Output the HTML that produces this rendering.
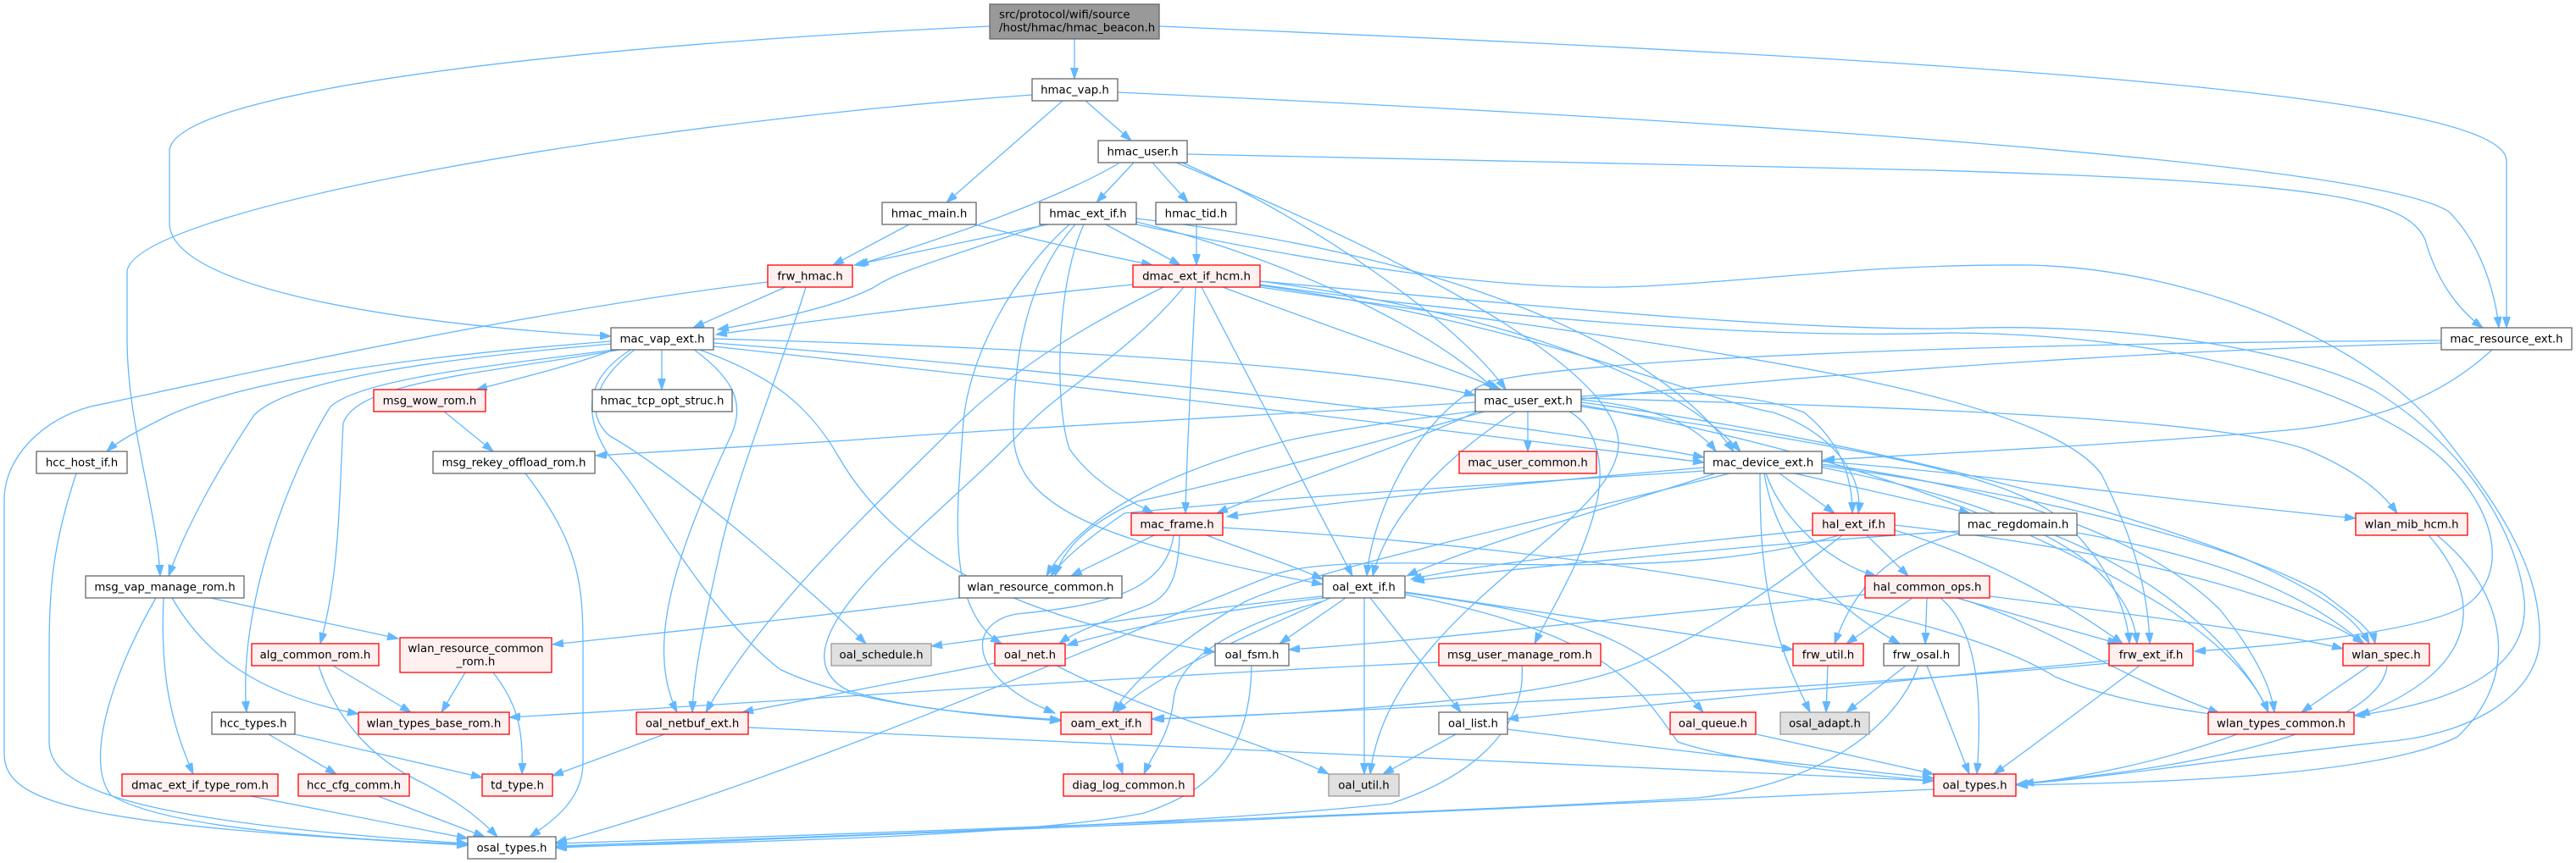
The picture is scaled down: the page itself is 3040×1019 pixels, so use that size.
<!DOCTYPE html>
<html><head><meta charset="utf-8"><style>
html,body{margin:0;padding:0;background:#fff;}
svg{display:block;}
text{font-family:"DejaVu Sans","Liberation Sans",sans-serif;font-size:13.33px;fill:#000;text-anchor:middle;}
.w{fill:#fff;stroke:#666;stroke-width:1.3;}
.r{fill:#fff0f0;stroke:#ff0000;stroke-width:1.3;}
.g{fill:#e0e0e0;stroke:#999;stroke-width:1.3;}
.root{fill:#999;stroke:#666;stroke-width:1.3;}
</style></head><body>
<svg width="3040" height="1019" viewBox="0 0 3040 1019" xmlns="http://www.w3.org/2000/svg">
<defs><marker id="a" markerWidth="14" markerHeight="10" refX="13" refY="4.5" orient="auto" markerUnits="userSpaceOnUse"><path d="M0,0 L13,4.5 L0,9 z" fill="#63b8ff" stroke="#63b8ff" stroke-width="1"/></marker></defs>
<rect width="3040" height="1019" fill="#fff"/>
<g fill="none" stroke="#63b8ff" stroke-width="1.3" marker-end="url(#a)">
<path d="M1268,46 L1268,93"/>
<path d="M1168,31 C700,52 210,105 200,177 L200,265 C205,345 500,385 721,397"/>
<path d="M1368,31 C2300,70 2958,110 2958,190 L2958,387"/>
<path d="M1281,119 L1335,166"/>
<path d="M1254,119 L1117,239"/>
<path d="M1218,112 C700,150 160,250 150,320 L150,400 C150,500 185,600 189,680"/>
<path d="M1319,109 C2000,140 2800,190 2890,250 C2930,290 2945,350 2949,387"/>
<path d="M1338,192 L1294,239"/>
<path d="M1360,192 L1402,239"/>
<path d="M1320,193 C1240,240 1100,285 1012,313"/>
<path d="M1401,182 L2280,201 C2750,215 2840,235 2862,283 C2875,330 2900,365 2930,387"/>
<path d="M1388,192 C1600,280 1900,420 1910,520 C1915,620 1640,720 1617,914"/>
<path d="M1395,192 C1550,260 1720,380 1777,460"/>
<path d="M1073,265 L983,313"/>
<path d="M1150,265 C1250,290 1320,305 1360,313"/>
<path d="M1237,265 L1008,313"/>
<path d="M1232,265 C1100,310 1060,320 1030,340 C980,365 900,380 847,389"/>
<path d="M1305,265 L1393,313"/>
<path d="M1262,265 C1200,320 1140,420 1136,510 C1130,600 1115,720 1182,760"/>
<path d="M1269,265 C1220,320 1196,400 1196,510 C1196,600 1300,640 1561,690"/>
<path d="M1279,265 C1245,340 1245,480 1262,530 C1290,570 1330,590 1361,606"/>
<path d="M1341,262 C1500,300 1680,380 1764,460"/>
<path d="M1341,258 C1700,300 1950,400 2046,533"/>
<path d="M1341,265 C1600,320 1800,345 1938,338 C2100,330 2200,312 2394,313 C2600,318 2800,410 2880,510 C2960,610 3000,680 2997,759 C2990,830 2900,870 2813,876 C2600,900 2450,922 2380,926"/>
<path d="M1487,332 C1800,360 2100,390 2300,388 C2500,380 2700,410 2800,460 C2900,520 2970,620 2979,709 C2985,790 2900,830 2778,845"/>
<path d="M1412,265 L1412,313"/>
<path d="M1337,336 C1100,360 950,380 845,395"/>
<path d="M1411,339 C1405,450 1400,550 1399,606"/>
<path d="M1418,339 L1596,680"/>
<path d="M1443,339 C1550,380 1700,430 1771,460"/>
<path d="M1373,339 C1290,380 1200,430 1121,509 C1030,600 900,720 833,841"/>
<path d="M1397,339 C1330,420 1250,460 1206,509 C1100,620 900,760 1000,815 C1080,840 1180,845 1252,850"/>
<path d="M1487,332 C1700,360 1950,420 2054,533"/>
<path d="M1487,337 C1800,380 2000,470 2093,487 C2160,510 2200,560 2193,606"/>
<path d="M1487,336 C1800,380 2100,400 2300,393 C2600,395 2800,470 2880,540 C2950,605 2960,680 2910,715 C2860,745 2700,762 2590,769"/>
<path d="M1487,339 C1900,400 2400,450 2480,560 C2520,640 2535,700 2537,760"/>
<path d="M927,339 L818,387"/>
<path d="M951,339 C920,440 870,560 850,650 C830,740 818,800 817,841"/>
<path d="M906,333 C600,370 250,450 107,480 C50,495 5,540 5,590 L5,890 C5,950 100,975 552,998"/>
<path d="M781,412 L781,460"/>
<path d="M727,412 C680,430 620,445 562,460"/>
<path d="M721,403 C500,420 300,445 200,490 C170,505 140,520 126,533"/>
<path d="M722,406 C500,425 340,450 300,490 C260,550 220,620 199,680"/>
<path d="M732,412 C600,430 430,445 390,480 C340,560 280,720 291,841"/>
<path d="M737,412 C580,440 420,450 405,500 C400,600 400,680 378,760"/>
<path d="M746,412 C700,440 680,480 720,540 C760,580 830,720 920,790 C1000,830 1150,845 1252,851"/>
<path d="M750,412 C700,450 690,490 720,515 C800,560 960,700 1022,760"/>
<path d="M818,412 C870,450 880,480 860,520 C800,650 760,760 799,841"/>
<path d="M823,412 C900,440 950,470 990,540 C1060,660 1200,730 1434,770"/>
<path d="M842,400 C1200,410 1600,430 1741,467"/>
<path d="M842,405 C1300,440 1800,500 2011,540"/>
<path d="M842,409 C1400,470 1800,520 2011,546"/>
<path d="M2942,412 C2880,470 2800,500 2687,509 C2500,525 2300,535 2152,543"/>
<path d="M2881,402 C2400,405 1900,420 1760,450 C1680,480 1620,600 1613,680"/>
<path d="M2881,405 C2300,420 1700,480 1520,520 C1400,550 1280,600 1235,680"/>
<path d="M523,485 L582,533"/>
<path d="M620,559 C690,650 688,700 688,780 L688,900 C688,940 660,965 625,988"/>
<path d="M1803,485 L1803,533"/>
<path d="M1741,475 C1500,490 1200,505 1000,520 C850,530 750,535 703,538"/>
<path d="M1790,485 C1720,530 1640,600 1620,680"/>
<path d="M1745,485 C1650,530 1520,570 1436,606"/>
<path d="M1755,485 C1600,530 1400,580 1342,592 C1280,620 1255,650 1245,680"/>
<path d="M1866,468 C1950,462 2060,460 2129,487 C2170,520 2186,560 2186,606"/>
<path d="M1866,472 C1950,480 2000,500 2025,533"/>
<path d="M1866,475 C2200,520 2500,600 2650,660 C2740,700 2780,730 2796,760"/>
<path d="M1866,478 C2200,540 2400,620 2560,720 C2620,760 2660,800 2677,841"/>
<path d="M1866,480 C2200,530 2380,560 2440,620 C2490,670 2510,720 2513,760"/>
<path d="M1850,485 C1880,500 1895,540 1885,590 C1870,660 1830,720 1811,760"/>
<path d="M1866,470 C2200,480 2600,490 2720,530 C2780,555 2810,580 2829,606"/>
<path d="M2077,559 C2077,640 2080,720 2121,809 L2136,841"/>
<path d="M2082,559 C2095,640 2150,709 2242,760"/>
<path d="M2084,559 C2104,617 2164,667 2214,680"/>
<path d="M2100,559 L2165,606"/>
<path d="M2118,559 L2325,606"/>
<path d="M2011,552 C1800,570 1600,590 1448,610"/>
<path d="M2011,556 C1800,570 1520,586 1327,606 C1283,636 1255,660 1240,680"/>
<path d="M2024,559 C1900,600 1750,640 1660,680"/>
<path d="M2041,559 C1800,620 1560,670 1470,710 C1400,750 1340,800 1313,841"/>
<path d="M2150,545 C2300,555 2571,592 2780,612"/>
<path d="M2150,548 C2400,580 2550,650 2620,720 C2660,770 2680,810 2684,841"/>
<path d="M2150,550 C2450,590 2650,650 2740,700 C2780,730 2800,745 2803,760"/>
<path d="M2150,552 C2350,590 2450,640 2490,690 C2515,720 2520,740 2522,760"/>
<path d="M2139,626 C1900,650 1750,665 1665,684"/>
<path d="M2174,632 C2100,690 2000,760 1908,792 C1800,830 1500,845 1361,849"/>
<path d="M2203,632 L2252,680"/>
<path d="M2236,626 C2350,660 2450,720 2505,760"/>
<path d="M2236,620 C2500,650 2700,700 2790,760"/>
<path d="M2170,632 C1950,700 1600,640 1500,680 C1200,800 900,930 656,995"/>
<path d="M2312,627 C2100,640 1800,670 1668,686"/>
<path d="M2312,630 C2230,650 2190,690 2165,760"/>
<path d="M2425,632 C2571,692 2650,780 2677,841"/>
<path d="M2451,629 C2619,659 2720,700 2789,760"/>
<path d="M2201,702 C1900,730 1700,755 1521,767"/>
<path d="M2257,706 L2179,760"/>
<path d="M2274,706 L2272,760"/>
<path d="M2290,706 C2333,742 2340,820 2333,914"/>
<path d="M2309,706 L2500,760"/>
<path d="M2314,707 C2425,742 2484,792 2619,842"/>
<path d="M2348,704 C2571,732 2700,750 2765,766"/>
<path d="M2866,632 C2934,709 2925,792 2784,845"/>
<path d="M2876,632 C2960,700 2975,800 2900,870 C2800,920 2500,925 2380,927"/>
<path d="M1561,704 C1400,720 1200,750 1099,763"/>
<path d="M1561,706 C1450,720 1330,740 1259,762"/>
<path d="M1588,706 L1510,760"/>
<path d="M1610,706 L1610,914"/>
<path d="M1617,706 L1724,841"/>
<path d="M1658,700 C1859,727 1932,749 2010,841"/>
<path d="M1658,702 C1898,749 1932,809 1980,876 C2050,900 2200,915 2282,922"/>
<path d="M1658,699 L2116,767"/>
<path d="M1570,706 C1450,760 1360,800 1317,841"/>
<path d="M1561,710 C1450,740 1390,780 1385,826 C1380,870 1360,890 1350,914"/>
<path d="M1718,867 L1632,914"/>
<path d="M1779,861 C2000,890 2200,910 2282,919"/>
<path d="M2073,867 L2282,914"/>
<path d="M1174,783 L876,841"/>
<path d="M1247,786 C1350,840 1500,880 1568,914"/>
<path d="M1310,867 L1325,914"/>
<path d="M1477,786 C1475,880 1440,930 1350,960 C1200,990 800,996 656,1000"/>
<path d="M784,867 L652,916"/>
<path d="M883,859 C1500,885 2000,905 2282,922"/>
<path d="M2157,786 L2155,841"/>
<path d="M2249,786 L2179,841"/>
<path d="M2274,786 L2324,914"/>
<path d="M2264,786 C2237,859 2150,926 2004,942 C1700,960 1000,985 656,996"/>
<path d="M2525,786 C2450,842 2400,880 2353,914"/>
<path d="M2489,780 C2300,800 1900,835 1779,849"/>
<path d="M2489,783 C2200,810 1700,835 1359,849"/>
<path d="M2796,786 L2716,841"/>
<path d="M2817,786 C2813,826 2740,892 2387,925"/>
<path d="M1698,782 C1300,800 900,830 601,847"/>
<path d="M1796,786 C1801,842 1762,909 1641,949 C1400,975 900,990 656,999"/>
<path d="M2282,932 C2000,945 1000,990 656,1001"/>
<path d="M2640,867 C2550,900 2450,920 2380,926"/>
<path d="M248,706 L470,754"/>
<path d="M184,706 C130,800 100,900 131,939 C200,980 400,990 552,997"/>
<path d="M193,706 C189,792 200,850 228,914"/>
<path d="M203,706 C240,770 300,820 423,843"/>
<path d="M393,786 L485,841"/>
<path d="M376,786 C400,860 450,900 490,920 C530,940 560,960 587,988"/>
<path d="M549,794 L521,841"/>
<path d="M582,794 C610,830 618,860 616,914"/>
<path d="M317,867 L397,914"/>
<path d="M348,867 L569,918"/>
<path d="M296,940 L552,990"/>
<path d="M446,940 L572,988"/>
<path d="M90,559 C60,650 58,700 58,780 L58,876 C58,930 150,970 552,996"/>
<path d="M1132,706 C950,730 800,745 652,761"/>
<path d="M1362,632 L1264,680"/>
<path d="M1392,632 C1390,692 1376,709 1340,720 C1300,735 1270,745 1250,760"/>
<path d="M1385,632 C1375,700 1300,715 1200,725 C1140,735 1140,800 1245,842"/>
<path d="M1424,632 C1470,650 1520,665 1561,684"/>
<path d="M1443,623 C1900,650 2300,720 2425,799 C2500,830 2580,838 2619,845"/>
</g>
<g>
<rect class="root" x="1168" y="5" width="200" height="41"/>
<text x="1179" y="21.5" style="text-anchor:start">src/protocol/wifi/source</text>
<text x="1179" y="37" style="text-anchor:start">/host/hmac/hmac_beacon.h</text>

<rect class="w" x="1218" y="93" width="101" height="26"/><text x="1268.5" y="110.5">hmac_vap.h</text>
<rect class="w" x="1296" y="166" width="105" height="26"/><text x="1348.5" y="183.5">hmac_user.h</text>
<rect class="w" x="1041" y="239" width="111" height="26"/><text x="1096.5" y="256.5">hmac_main.h</text>
<rect class="w" x="1227" y="239" width="114" height="26"/><text x="1284" y="256.5">hmac_ext_if.h</text>
<rect class="w" x="1364" y="239" width="95" height="26"/><text x="1411.5" y="256.5">hmac_tid.h</text>
<rect class="r" x="906" y="313" width="100" height="26"/><text x="956" y="330.5">frw_hmac.h</text>
<rect class="r" x="1337" y="313" width="150" height="26"/><text x="1412" y="330.5">dmac_ext_if_hcm.h</text>
<rect class="w" x="721" y="387" width="121" height="26"/><text x="781.5" y="404.5">mac_vap_ext.h</text>
<rect class="w" x="2881" y="387" width="154" height="26"/><text x="2958" y="404.5">mac_resource_ext.h</text>
<rect class="r" x="441" y="460" width="132" height="26"/><text x="507" y="477.5">msg_wow_rom.h</text>
<rect class="w" x="699" y="460" width="165" height="26"/><text x="781.5" y="477.5">hmac_tcp_opt_struc.h</text>
<rect class="w" x="1741" y="460" width="125" height="26"/><text x="1803.5" y="477.5">mac_user_ext.h</text>
<rect class="w" x="43" y="533" width="107" height="26"/><text x="96.5" y="550.5">hcc_host_if.h</text>
<rect class="w" x="511" y="533" width="191" height="26"/><text x="606.5" y="550.5">msg_rekey_offload_rom.h</text>
<rect class="r" x="1722" y="533" width="162" height="26"/><text x="1803" y="550.5">mac_user_common.h</text>
<rect class="w" x="2011" y="533" width="139" height="26"/><text x="2080.5" y="550.5">mac_device_ext.h</text>
<rect class="r" x="1335" y="606" width="108" height="26"/><text x="1389" y="623.5">mac_frame.h</text>
<rect class="r" x="2139" y="606" width="97" height="26"/><text x="2187.5" y="623.5">hal_ext_if.h</text>
<rect class="w" x="2312" y="606" width="139" height="26"/><text x="2381.5" y="623.5">mac_regdomain.h</text>
<rect class="r" x="2780" y="606" width="132" height="26"/><text x="2846" y="623.5">wlan_mib_hcm.h</text>
<rect class="w" x="101" y="680" width="187" height="26"/><text x="194.5" y="697.5">msg_vap_manage_rom.h</text>
<rect class="w" x="1132" y="680" width="192" height="26"/><text x="1228" y="697.5">wlan_resource_common.h</text>
<rect class="w" x="1561" y="680" width="97" height="26"/><text x="1609.5" y="697.5">oal_ext_if.h</text>
<rect class="r" x="2201" y="680" width="147" height="26"/><text x="2274.5" y="697.5">hal_common_ops.h</text>
<rect class="r" x="297" y="760" width="150" height="26"/><text x="372" y="777.5">alg_common_rom.h</text>
<rect class="r" x="472" y="753" width="179" height="41"/><text x="561.5" y="770">wlan_resource_common</text><text x="561.5" y="785.5">_rom.h</text>
<rect class="g" x="981" y="760" width="118" height="26"/><text x="1040" y="777.5">oal_schedule.h</text>
<rect class="r" x="1174" y="760" width="83" height="26"/><text x="1215.5" y="777.5">oal_net.h</text>
<rect class="w" x="1434" y="760" width="87" height="26"/><text x="1477.5" y="777.5">oal_fsm.h</text>
<rect class="r" x="1698" y="760" width="191" height="26"/><text x="1793.5" y="777.5">msg_user_manage_rom.h</text>
<rect class="r" x="2116" y="760" width="83" height="26"/><text x="2157.5" y="777.5">frw_util.h</text>
<rect class="w" x="2223" y="760" width="89" height="26"/><text x="2267.5" y="777.5">frw_osal.h</text>
<rect class="r" x="2489" y="760" width="99" height="26"/><text x="2538.5" y="777.5">frw_ext_if.h</text>
<rect class="r" x="2765" y="760" width="102" height="26"/><text x="2816" y="777.5">wlan_spec.h</text>
<rect class="w" x="250" y="841" width="98" height="26"/><text x="299" y="858.5">hcc_types.h</text>
<rect class="r" x="423" y="841" width="178" height="26"/><text x="512" y="858.5">wlan_types_base_rom.h</text>
<rect class="r" x="751" y="841" width="132" height="26"/><text x="817" y="858.5">oal_netbuf_ext.h</text>
<rect class="r" x="1252" y="841" width="107" height="26"/><text x="1305.5" y="858.5">oam_ext_if.h</text>
<rect class="w" x="1698" y="841" width="81" height="26"/><text x="1738.5" y="858.5">oal_list.h</text>
<rect class="r" x="1971" y="841" width="101" height="26"/><text x="2021.5" y="858.5">oal_queue.h</text>
<rect class="g" x="2101" y="841" width="105" height="26"/><text x="2153.5" y="858.5">osal_adapt.h</text>
<rect class="r" x="2606" y="841" width="172" height="26"/><text x="2692" y="858.5">wlan_types_common.h</text>
<rect class="r" x="144" y="914" width="184" height="26"/><text x="236" y="931.5">dmac_ext_if_type_rom.h</text>
<rect class="r" x="352" y="914" width="131" height="26"/><text x="417.5" y="931.5">hcc_cfg_comm.h</text>
<rect class="r" x="569" y="914" width="83" height="26"/><text x="610.5" y="931.5">td_type.h</text>
<rect class="r" x="1255" y="914" width="154" height="26"/><text x="1332" y="931.5">diag_log_common.h</text>
<rect class="g" x="1568" y="914" width="83" height="26"/><text x="1609.5" y="931.5">oal_util.h</text>
<rect class="r" x="2282" y="914" width="97" height="26"/><text x="2330.5" y="931.5">oal_types.h</text>
<rect class="w" x="552" y="988" width="104" height="26"/><text x="604" y="1005.5">osal_types.h</text>
</g>
</svg>
</body></html>
